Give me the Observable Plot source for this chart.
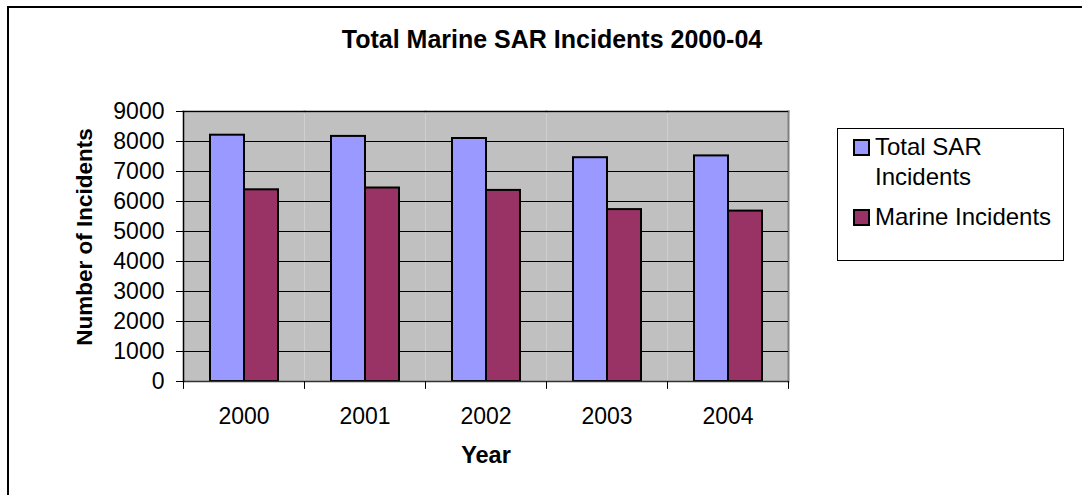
<!DOCTYPE html>
<html>
<head>
<meta charset="utf-8">
<script src="https://cdn.jsdelivr.net/npm/d3@7"></script>
<script src="https://cdn.jsdelivr.net/npm/@observablehq/plot@0.6"></script>
<style>
  html, body { margin: 0; padding: 0; background: #fff; }
  body { font-family: "Liberation Sans", Arial, sans-serif; }
  #wrap { position: relative; width: 1082px; height: 495px; overflow: hidden; }
  #wrap svg { position: absolute; left: 0; top: 0; }
  .border { position: absolute; left: 7px; top: 6px; right: -10px; bottom: -10px;
            border-left: 2px solid #000; border-top: 2px solid #000; }
  .title { position: absolute; left: 0; width: 1104px; top: 25px; text-align: center;
           font-weight: bold; font-size: 25px; color: #000; }
  .xlabel { position: absolute; left: 386px; width: 200px; top: 442px; text-align: center;
            font-weight: bold; font-size: 23.5px; }
  .ylabel { position: absolute; left: 85px; top: 237px; font-weight: bold; font-size: 22.5px;
            transform: translate(-50%, -50%) rotate(-90deg); white-space: nowrap; }
  .legend { position: absolute; left: 837px; top: 128px; width: 227px; height: 133px;
            border: 1px solid #000; box-sizing: border-box; font-size: 24px; }
  .item { position: absolute; left: 15px; display: flex; align-items: flex-start; }
  .sw { width: 13px; height: 13px; border: 2px solid #000; margin-top: 7px; margin-right: 5px; flex: none; }
  .lt { line-height: 30px; }
</style>
</head>
<body>
<div id="wrap">
  <div class="border"></div>
  <div class="title">Total Marine SAR Incidents 2000-04</div>
  <div class="ylabel">Number of Incidents</div>
  <div class="xlabel">Year</div>
  <div class="legend" id="legend"></div>
</div>
<script>
const years = ["2000", "2001", "2002", "2003", "2004"];
const seriesNames = ["Total SAR Incidents", "Marine Incidents"];
const totalSAR = [8210, 8170, 8100, 7460, 7520];
const marine = [6390, 6450, 6370, 5730, 5680];
const yTicks = [0, 1000, 2000, 3000, 4000, 5000, 6000, 7000, 8000, 9000];
const colors = ["#9999FF", "#993366"];

const data = years.flatMap((yr, i) => [
  {year: yr, series: seriesNames[0], value: totalSAR[i]},
  {year: yr, series: seriesNames[1], value: marine[i]}
]);

const tickShape = {draw(ctx, l) { ctx.moveTo(0, 0); ctx.lineTo(0, -l); }};

const chart = Plot.plot({
  width: 1082,
  height: 495,
  marginLeft: 183,
  marginRight: 294,
  marginTop: 111,
  marginBottom: 114,
  style: {fontFamily: '"Liberation Sans", Arial, sans-serif', background: "transparent", overflow: "visible"},
  fx: {domain: years, padding: 0, axis: null, label: null},
  x: {domain: seriesNames, paddingInner: 0, paddingOuter: 0.73, axis: null},
  y: {domain: [0, 9000], axis: null},
  color: {domain: seriesNames, range: colors},
  marks: [
    Plot.frame({fill: "#C0C0C0", stroke: null}),
    Plot.frame({anchor: "top", stroke: "#808080", strokeWidth: 2}),
    Plot.frame({anchor: "right", stroke: "#808080", strokeWidth: 2, facetAnchor: "right"}),
    Plot.ruleY(yTicks.filter(v => v > 0), {stroke: "#000", strokeWidth: 1}),
    Plot.barY(data, {fx: "year", x: "series", y: "value", fill: "series", stroke: "#000", strokeWidth: 2}),
    Plot.ruleY([0], {stroke: "#333", strokeWidth: 1.5}),
    Plot.frame({anchor: "left", stroke: "#000", strokeWidth: 1.5, facetAnchor: "left"}),
    Plot.axisY({ticks: yTicks, tickSize: 7, tickPadding: 12, fontSize: 23, label: null, tickFormat: d => String(d), stroke: "#000", color: "#000"}),
    Plot.axisFx({anchor: "bottom", tickSize: 0, tickPadding: 26, fontSize: 23, label: null, color: "#000"}),
    Plot.vector(years, {fx: d => d, frameAnchor: "bottom-left", length: 7, rotate: 180, anchor: "start", shape: tickShape, stroke: "#000", strokeWidth: 1}),
    Plot.vector(years.slice(-1), {fx: d => d, frameAnchor: "bottom-right", length: 7, rotate: 180, anchor: "start", shape: tickShape, stroke: "#000", strokeWidth: 1})
  ]
});
document.getElementById("wrap").insertBefore(chart, document.querySelector(".title"));

const legend = document.getElementById("legend");
const labels = [["Total SAR", "Incidents"], ["Marine Incidents"]];
const tops = [3, 73];
labels.forEach((lines, i) => {
  const item = document.createElement("div");
  item.className = "item";
  item.style.top = tops[i] + "px";
  const sw = document.createElement("div");
  sw.className = "sw";
  sw.style.background = colors[i];
  const t = document.createElement("div");
  t.className = "lt";
  t.innerHTML = lines.join("<br>");
  item.appendChild(sw);
  item.appendChild(t);
  legend.appendChild(item);
});
</script>
</body>
</html>
